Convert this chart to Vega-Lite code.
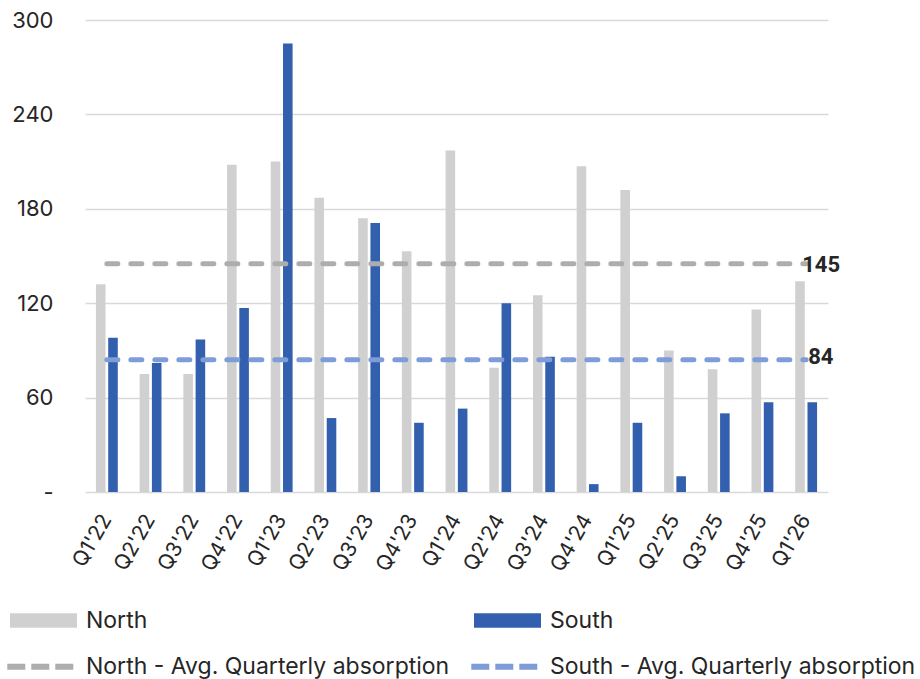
{
  "$schema": "https://vega.github.io/schema/vega-lite/v6.json",
  "width": 743,
  "height": 472,
  "autosize": {"type": "none"},
  "padding": {"left": 85, "top": 20, "right": 92, "bottom": 187},
  "background": "white",
  "config": {
    "view": {"stroke": null},
    "font": "Inter",
    "axis": {"labelColor": "#262626", "titleColor": "#262626"}
  },
  "datasets": {
    "bars": [
      {"quarter": "Q1'22", "series": "North", "value": 132}, {"quarter": "Q1'22", "series": "South", "value": 98},
      {"quarter": "Q2'22", "series": "North", "value": 75}, {"quarter": "Q2'22", "series": "South", "value": 82},
      {"quarter": "Q3'22", "series": "North", "value": 75}, {"quarter": "Q3'22", "series": "South", "value": 97},
      {"quarter": "Q4'22", "series": "North", "value": 208}, {"quarter": "Q4'22", "series": "South", "value": 117},
      {"quarter": "Q1'23", "series": "North", "value": 210}, {"quarter": "Q1'23", "series": "South", "value": 285},
      {"quarter": "Q2'23", "series": "North", "value": 187}, {"quarter": "Q2'23", "series": "South", "value": 47},
      {"quarter": "Q3'23", "series": "North", "value": 174}, {"quarter": "Q3'23", "series": "South", "value": 171},
      {"quarter": "Q4'23", "series": "North", "value": 153}, {"quarter": "Q4'23", "series": "South", "value": 44},
      {"quarter": "Q1'24", "series": "North", "value": 217}, {"quarter": "Q1'24", "series": "South", "value": 53},
      {"quarter": "Q2'24", "series": "North", "value": 79}, {"quarter": "Q2'24", "series": "South", "value": 120},
      {"quarter": "Q3'24", "series": "North", "value": 125}, {"quarter": "Q3'24", "series": "South", "value": 86},
      {"quarter": "Q4'24", "series": "North", "value": 207}, {"quarter": "Q4'24", "series": "South", "value": 5},
      {"quarter": "Q1'25", "series": "North", "value": 192}, {"quarter": "Q1'25", "series": "South", "value": 44},
      {"quarter": "Q2'25", "series": "North", "value": 90}, {"quarter": "Q2'25", "series": "South", "value": 10},
      {"quarter": "Q3'25", "series": "North", "value": 78}, {"quarter": "Q3'25", "series": "South", "value": 50},
      {"quarter": "Q4'25", "series": "North", "value": 116}, {"quarter": "Q4'25", "series": "South", "value": 57},
      {"quarter": "Q1'26", "series": "North", "value": 134}, {"quarter": "Q1'26", "series": "South", "value": 57}
    ],
    "avg": [
      {"quarter": "Q1'22", "series": "North - Avg. Quarterly absorption", "value": 145}, {"quarter": "Q1'22", "series": "South - Avg. Quarterly absorption", "value": 84},
      {"quarter": "Q2'22", "series": "North - Avg. Quarterly absorption", "value": 145}, {"quarter": "Q2'22", "series": "South - Avg. Quarterly absorption", "value": 84},
      {"quarter": "Q3'22", "series": "North - Avg. Quarterly absorption", "value": 145}, {"quarter": "Q3'22", "series": "South - Avg. Quarterly absorption", "value": 84},
      {"quarter": "Q4'22", "series": "North - Avg. Quarterly absorption", "value": 145}, {"quarter": "Q4'22", "series": "South - Avg. Quarterly absorption", "value": 84},
      {"quarter": "Q1'23", "series": "North - Avg. Quarterly absorption", "value": 145}, {"quarter": "Q1'23", "series": "South - Avg. Quarterly absorption", "value": 84},
      {"quarter": "Q2'23", "series": "North - Avg. Quarterly absorption", "value": 145}, {"quarter": "Q2'23", "series": "South - Avg. Quarterly absorption", "value": 84},
      {"quarter": "Q3'23", "series": "North - Avg. Quarterly absorption", "value": 145}, {"quarter": "Q3'23", "series": "South - Avg. Quarterly absorption", "value": 84},
      {"quarter": "Q4'23", "series": "North - Avg. Quarterly absorption", "value": 145}, {"quarter": "Q4'23", "series": "South - Avg. Quarterly absorption", "value": 84},
      {"quarter": "Q1'24", "series": "North - Avg. Quarterly absorption", "value": 145}, {"quarter": "Q1'24", "series": "South - Avg. Quarterly absorption", "value": 84},
      {"quarter": "Q2'24", "series": "North - Avg. Quarterly absorption", "value": 145}, {"quarter": "Q2'24", "series": "South - Avg. Quarterly absorption", "value": 84},
      {"quarter": "Q3'24", "series": "North - Avg. Quarterly absorption", "value": 145}, {"quarter": "Q3'24", "series": "South - Avg. Quarterly absorption", "value": 84},
      {"quarter": "Q4'24", "series": "North - Avg. Quarterly absorption", "value": 145}, {"quarter": "Q4'24", "series": "South - Avg. Quarterly absorption", "value": 84},
      {"quarter": "Q1'25", "series": "North - Avg. Quarterly absorption", "value": 145}, {"quarter": "Q1'25", "series": "South - Avg. Quarterly absorption", "value": 84},
      {"quarter": "Q2'25", "series": "North - Avg. Quarterly absorption", "value": 145}, {"quarter": "Q2'25", "series": "South - Avg. Quarterly absorption", "value": 84},
      {"quarter": "Q3'25", "series": "North - Avg. Quarterly absorption", "value": 145}, {"quarter": "Q3'25", "series": "South - Avg. Quarterly absorption", "value": 84},
      {"quarter": "Q4'25", "series": "North - Avg. Quarterly absorption", "value": 145}, {"quarter": "Q4'25", "series": "South - Avg. Quarterly absorption", "value": 84},
      {"quarter": "Q1'26", "series": "North - Avg. Quarterly absorption", "value": 145}, {"quarter": "Q1'26", "series": "South - Avg. Quarterly absorption", "value": 84}
    ]
  },
  "layer": [
    {
      "data": {"name": "bars"},
      "mark": {"type": "bar"},
      "encoding": {
        "x": {
          "field": "quarter", "type": "nominal", "sort": null,
          "scale": {"paddingInner": 0.5, "paddingOuter": 0.25},
          "axis": {
            "title": null, "labelAngle": -60, "labelAlign": "right", "labelBaseline": "middle",
            "labelFontSize": 21, "labelPadding": 24, "ticks": false, "domain": false, "grid": false
          }
        },
        "xOffset": {"field": "series", "type": "nominal", "sort": ["North", "South"], "scale": {"paddingInner": 0.22}},
        "y": {
          "field": "value", "type": "quantitative",
          "scale": {"domain": [0, 300]},
          "axis": {
            "title": null, "values": [0, 60, 120, 180, 240, 300],
            "labelExpr": "datum.value == 0 ? '-\u2002' : datum.label",
            "labelFontSize": 22, "labelPadding": 32, "ticks": false, "domain": false,
            "grid": true, "gridColor": "#d9d9d9", "gridWidth": 1.5
          }
        },
        "fill": {
          "field": "series", "type": "nominal",
          "scale": {"domain": ["North", "South"], "range": ["#d0d0d0", "#325fae"]},
          "legend": {
            "title": null, "orient": "none", "legendX": -75, "legendY": 585.5,
            "direction": "horizontal", "columns": 2, "columnPadding": 326, "padding": 0,
            "clipHeight": 30, "symbolSize": 4489, "symbolStrokeWidth": 0, "symbolOffset": 0,
            "symbolType": "M-1,-0.216H1V0.216H-1Z",
            "labelOffset": 9, "labelFontSize": 23, "labelFont": "Inter", "labelColor": "#262626", "labelLimit": 600
          }
        }
      }
    },
    {
      "data": {"name": "avg"},
      "mark": {"type": "line", "strokeWidth": 5, "strokeDash": [11, 13], "strokeCap": "round"},
      "encoding": {
        "x": {"field": "quarter", "type": "nominal", "sort": null},
        "y": {"field": "value", "type": "quantitative"},
        "stroke": {
          "field": "series", "type": "nominal",
          "scale": {"domain": ["North - Avg. Quarterly absorption", "South - Avg. Quarterly absorption"], "range": ["#adadad", "#7d9cd8"]},
          "legend": {
            "title": null, "orient": "none", "legendX": -80.7, "legendY": 631.7,
            "direction": "horizontal", "columns": 2, "columnPadding": 19, "padding": 0,
            "clipHeight": 30, "symbolSize": 4356, "symbolStrokeWidth": 6, "symbolOffset": 0,
            "symbolType": "stroke", "symbolDash": [18, 6],
            "labelOffset": 9.7, "labelFontSize": 23, "labelFont": "Inter", "labelColor": "#262626", "labelLimit": 600
          }
        }
      }
    },
    {
      "data": {"name": "avg"},
      "transform": [{"filter": "datum.quarter == \"Q1'26\" && indexof(datum.series, 'North') == 0"}],
      "mark": {"type": "text", "align": "left", "baseline": "middle", "dx": -4, "dy": 1, "font": "Roboto", "fontWeight": "bold", "fontSize": 22, "fill": "#262626"},
      "encoding": {
        "x": {"field": "quarter", "type": "nominal", "sort": null},
        "y": {"field": "value", "type": "quantitative"},
        "text": {"field": "value", "type": "quantitative"}
      }
    },
    {
      "data": {"name": "avg"},
      "transform": [{"filter": "datum.quarter == \"Q1'26\" && indexof(datum.series, 'South') == 0"}],
      "mark": {"type": "text", "align": "left", "baseline": "middle", "dx": 2, "dy": -3, "font": "Roboto", "fontWeight": "bold", "fontSize": 22, "fill": "#262626"},
      "encoding": {
        "x": {"field": "quarter", "type": "nominal", "sort": null},
        "y": {"field": "value", "type": "quantitative"},
        "text": {"field": "value", "type": "quantitative"}
      }
    }
  ]
}
